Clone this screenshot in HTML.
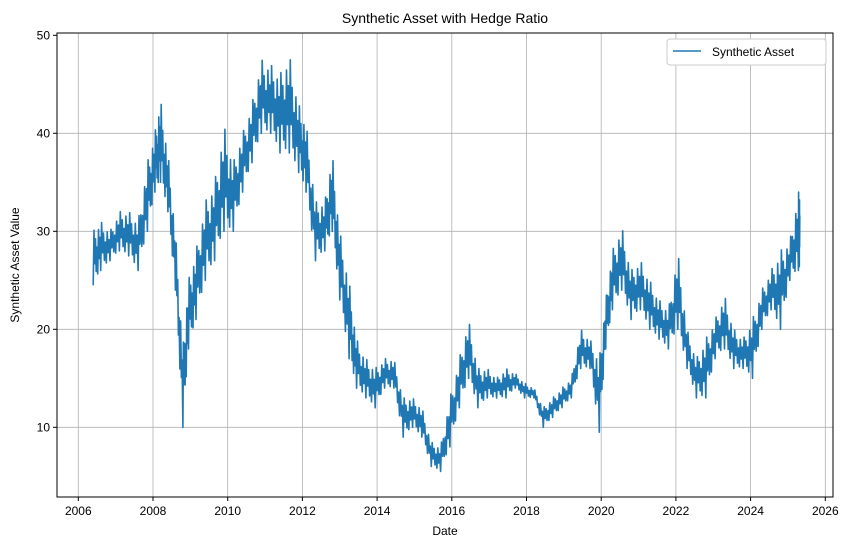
<!DOCTYPE html>
<html><head><meta charset="utf-8">
<style>
body{margin:0;background:#fff;font-family:"Liberation Sans",sans-serif;}
svg text{font-family:"Liberation Sans",sans-serif;fill:#000;}
</style></head>
<body>
<svg id="chart" width="850" height="547" xmlns="http://www.w3.org/2000/svg">
<rect width="850" height="547" fill="#fff"/>
<text x="445" y="23" font-size="14" text-anchor="middle">Synthetic Asset with Hedge Ratio</text>
<g id="grid"></g>
<g id="ticks"></g>
<path id="series" fill="none" stroke="#1f77b4" stroke-width="1.6" stroke-linejoin="round"/>
<rect x="57" y="33" width="776" height="464" fill="none" stroke="#000" stroke-width="1"/>
<text x="445" y="535" font-size="12" text-anchor="middle">Date</text>
<text transform="translate(19,265) rotate(-90)" font-size="12" text-anchor="middle">Synthetic Asset Value</text>
<g>
<rect x="667" y="39" width="159" height="26" rx="3" fill="#fff" stroke="#ccc"/>
<line x1="673" y1="51" x2="701" y2="51" stroke="#1f77b4" stroke-width="1.6"/>
<text x="712" y="56" font-size="12">Synthetic Asset</text>
</g>
</svg>
<script>
const dates=[2006.4,2006.6,2006.85,2007.1,2007.35,2007.6,2007.85,2008.05,2008.2,2008.4,2008.6,2008.8,2008.95,2009.15,2009.4,2009.65,2009.9,2010.15,2010.4,2010.65,2010.9,2011.15,2011.4,2011.65,2011.9,2012.1,2012.35,2012.6,2012.8,2013.0,2013.25,2013.45,2013.7,2013.95,2014.2,2014.45,2014.7,2014.95,2015.2,2015.45,2015.7,2015.95,2016.2,2016.45,2016.7,2016.95,2017.2,2017.45,2017.7,2017.95,2018.2,2018.45,2018.7,2018.95,2019.2,2019.45,2019.7,2019.95,2020.12,2020.3,2020.55,2020.8,2021.05,2021.3,2021.55,2021.8,2022.05,2022.3,2022.55,2022.8,2023.05,2023.3,2023.55,2023.8,2024.05,2024.3,2024.55,2024.8,2025.05,2025.28];
const lows=[24.5,26,27,28,27.5,26,30,34,35,32,24,10,18,21,25,27,30,30,34,37,40,40,38,38,36,34,27,28,30,23,17,14,13,12,14,14,9,10,9,6,5.5,8,12,15,12,13,13,13,14,13,13,10,11,12,13,16,16,9.5,18,22,24,21,22,20,19,18,20,16,13,13,17,18,16,16,15,20,22,20,25,26];
const highs=[30,31,30,32,32,31,37,40,43.5,38,30,18,25,28,33,35,40.8,37,40,43,47.5,47,46,48,43,41,33,33,38,30,25,19,17,16,17,17,13,13,12,8.5,8,13,17,21,16,16,15,16,15.5,14.5,14,12,13,14,15,20,19,17,23,28,30.5,26,27,25,23,22,28,20,17,19,21,23.5,20,19,21,24,26,28,29,34];
const x=d=>78.3+(d-2006)*37.35;
const y=v=>525.3-v*9.8;
const NS="http://www.w3.org/2000/svg";
const xTicks=[2006,2008,2010,2012,2014,2016,2018,2020,2022,2024,2026];
const yTicks=[10,20,30,40,50];
const grid=document.getElementById('grid'),ticks=document.getElementById('ticks');
function mk(tag,at,parent){const e=document.createElementNS(NS,tag);for(const k in at)e.setAttribute(k,at[k]);parent.appendChild(e);return e;}
xTicks.forEach(t=>{
 const gl=mk('line',{x1:x(t),x2:x(t),y1:33,y2:497,stroke:'#b0b0b0','stroke-width':0.8},grid);
 
 
 mk('line',{x1:x(t),x2:x(t),y1:497,y2:501,stroke:'#000'},ticks);
 const tx=mk('text',{x:x(t),y:515,'font-size':12,'text-anchor':'middle'},ticks);
 tx.textContent=t;
 
 
});
yTicks.forEach(t=>{
 if(t<50){const gl=mk('line',{x1:57,x2:833,y1:y(t),y2:y(t),stroke:'#b0b0b0','stroke-width':0.8},grid);
 
 }
 mk('line',{x1:53,x2:57,y1:y(t),y2:y(t),stroke:'#000'},ticks);
 const tx=mk('text',{x:50,y:y(t)+4,'font-size':12,'text-anchor':'end'},ticks);
 tx.textContent=t;
 
 
});
// zigzag between low and high, blending toward the next period
const fr=[0,1,0.35,0.8,0.15,0.6,0.05,0.9,0.3,0.7];
let d='';
for(let i=0;i<dates.length;i++){
 const last=i+1>=dates.length;
 const t0=dates[i],t1=last?dates[i]+0.04:dates[i+1];
 const n=10;
 for(let k=0;k<n;k++){
  const a=k/n;
  const lo=last?lows[i]:lows[i]*(1-a)+lows[i+1]*a;
  const hi=last?highs[i]:highs[i]*(1-a)+highs[i+1]*a;
  const v=lo+(hi-lo)*fr[k];
  d+=(d?'L':'M')+x(t0+(t1-t0)*a).toFixed(1)+','+y(v).toFixed(1);
 }
}
document.getElementById('series').setAttribute('d',d);
</script>
</body></html>
